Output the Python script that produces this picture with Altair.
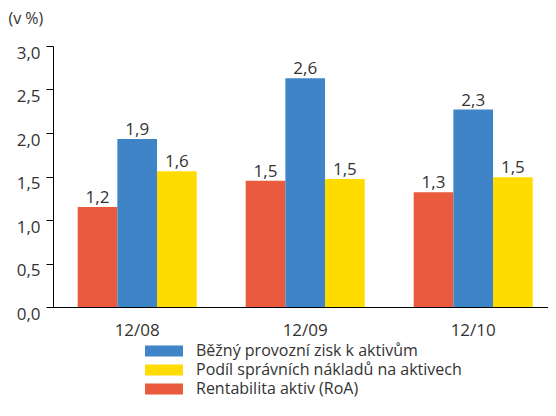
import altair as alt
import pandas as pd

periods = ["12/08", "12/09", "12/10"]
series_names = ["Rentabilita aktiv (RoA)", "Běžný provozní zisk k aktivům", "Podíl správních nákladů na aktivech"]
roa = [1.15, 1.45, 1.32]
zisk = [1.93, 2.63, 2.27]
naklady = [1.56, 1.47, 1.49]
roa_labels = ["1,2", "1,5", "1,3"]
zisk_labels = ["1,9", "2,6", "2,3"]
naklady_labels = ["1,6", "1,5", "1,5"]
colors = {"Rentabilita aktiv (RoA)": "#EA5B3E",
          "Běžný provozní zisk k aktivům": "#3E84C6",
          "Podíl správních nákladů na aktivech": "#FFDC00"}
legend_order = ["Běžný provozní zisk k aktivům", "Podíl správních nákladů na aktivech", "Rentabilita aktiv (RoA)"]

rows = []
for name, vals, labs in zip(series_names, [roa, zisk, naklady], [roa_labels, zisk_labels, naklady_labels]):
    for p, v, l in zip(periods, vals, labs):
        rows.append({"period": p, "series": name, "value": v, "label": l})
df = pd.DataFrame(rows)

FONT = "Open Sans"
FS = 17

x = alt.X("period:N", sort=periods, title=None,
          scale=alt.Scale(paddingInner=0.2917, paddingOuter=0.119, align=0.6175),
          axis=alt.Axis(labelAngle=0, ticks=False, labelPadding=15, labelFontSize=FS,
                        labelColor="#333333", domainColor="#000000", labelFont=FONT))
xo = alt.XOffset("series:N", sort=series_names, scale=alt.Scale(paddingInner=0, paddingOuter=0))
y = alt.Y("value:Q", scale=alt.Scale(domain=[0, 3]), title="(v %)",
          axis=alt.Axis(values=[0, 0.5, 1, 1.5, 2, 2.5, 3], grid=False, tickSize=7, labelPadding=6,
                        labelExpr="replace(format(datum.value, '.1f'), '.', ',')",
                        labelBaseline="top", labelOffset=-1, labelFontSize=FS, labelColor="#333333",
                        labelFont=FONT, domainColor="#000000", tickColor="#000000",
                        titleAngle=0, titleAlign="left", titleBaseline="middle", titleX=-45, titleY=-28,
                        titleFontSize=16, titleFontWeight="normal", titleColor="#333333", titleFont=FONT))

bars = alt.Chart(df).mark_bar().encode(
    x=x, xOffset=xo, y=y,
    color=alt.Color("series:N",
                    scale=alt.Scale(domain=legend_order, range=[colors[n] for n in legend_order]),
                    legend=alt.Legend(title=None, orient="none", legendX=103, legendY=297,
                                      symbolType="M-3.45,-1H3.45V1H-3.45Z", symbolSize=121,
                                      symbolStrokeWidth=0, labelOffset=24, labelFontSize=16,
                                      labelLimit=0, labelColor="#333333", labelFont=FONT,
                                      rowPadding=3, padding=0)),
)

texts = alt.Chart(df).mark_text(baseline="alphabetic", dy=-4, fontSize=FS, color="#333333", font=FONT).encode(
    x=x, xOffset=xo, y=y, text="label:N"
)

chart = alt.layer(bars, texts).properties(
    width=495, height=261,
    padding={"left": 0, "top": 2, "right": 0, "bottom": 0},
).configure_view(stroke=None)

chart.save("out.html", embed_options={"renderer": "svg", "actions": False})
